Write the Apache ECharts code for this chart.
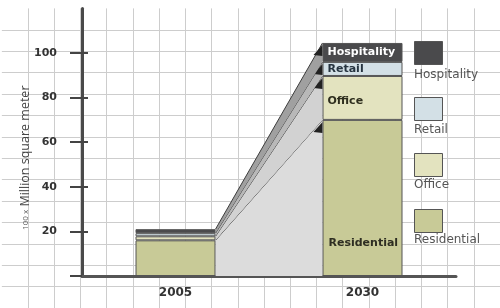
<!DOCTYPE html>
<html>
<head>
<meta charset="utf-8">
<script src="https://cdn.jsdelivr.net/npm/echarts@6/dist/echarts.min.js"></script>
<style>
  html, body { margin: 0; padding: 0; background: #fff; }
  #main { width: 500px; height: 308px; }
</style>
</head>
<body>
<div id="main"></div>
<script>
// values (100 x million square meter)
var years = ['2005', '2030'];
var layers = ['Residential', 'Office', 'Retail', 'Hospitality'];
var residential = [16, 70];
var office = [1.8, 19.7];
var retail = [1.4, 6.3];
var hospitality = [1.8, 8.5];
var yTicks = [20, 40, 60, 80, 100];
var legendOrder = ['Hospitality', 'Retail', 'Office', 'Residential'];

var layerValues = [residential, office, retail, hospitality];
var layerColors = ['#c8ca97', '#e3e3bf', '#d3e0e6', '#4a4a4c'];
var bandColors = ['#dcdcdc', '#d2d2d2', '#b8b8b8', '#a0a0a0'];
var labelColors = ['#2e2e22', '#2e2e1e', '#263440', '#ffffff'];
var BAR_W = 80;

// one band per layer between the two bars: [layer, bottom05, bottom30, top05, top30]
var bandData = [];
var acc = [0, 0];
layerValues.forEach(function (vals, k) {
  bandData.push([k, acc[0], acc[1], acc[0] + vals[0], acc[1] + vals[1]]);
  acc = [acc[0] + vals[0], acc[1] + vals[1]];
});

function renderBand(params, api) {
  var k = api.value(0);
  var xL = api.coord([0, 0])[0] + BAR_W / 2;
  var xR = api.coord([1, 0])[0] - BAR_W / 2;
  var yb05 = api.coord([0, api.value(1)])[1];
  var yb30 = api.coord([1, api.value(2)])[1];
  var yt05 = api.coord([0, api.value(3)])[1];
  var yt30 = api.coord([1, api.value(4)])[1];
  return {
    type: 'group',
    children: [
      {
        type: 'polygon',
        shape: { points: [[xL, yb05], [xL, yt05], [xR, yt30], [xR, yb30]] },
        style: { fill: bandColors[k] }
      },
      {
        type: 'line',
        shape: { x1: xL, y1: yt05, x2: xR, y2: yt30 },
        style: { stroke: '#3c3c3c', lineWidth: 1 }
      },
      {
        type: 'polygon',
        shape: { points: [[xR, yt30 + 2], [xR, yt30 + 13], [xR - 9, yt30 + 12]] },
        style: { fill: '#222' }
      }
    ]
  };
}

function barLabel(k) {
  var lab = {
    show: true,
    position: 'insideLeft',
    distance: 5,
    color: labelColors[k],
    fontFamily: 'DejaVu Sans',
    fontWeight: 'bold',
    fontSize: 11,
    formatter: '{a}'
  };
  if (k === 0) {
    lab.position = [6, '79%'];
    lab.verticalAlign = 'middle';
  }
  if (k === 1) {
    lab.offset = [0, 3];
  }
  return lab;
}

var barSeries = layers.map(function (name, k) {
  return {
    name: name,
    type: 'bar',
    stack: 'total',
    xAxisIndex: 0,
    yAxisIndex: 0,
    barWidth: BAR_W,
    z: 3,
    itemStyle: { color: layerColors[k], borderColor: '#555', borderWidth: 1 },
    data: layerValues[k].map(function (v, i) {
      return { value: v, label: i === 1 ? barLabel(k) : { show: false } };
    })
  };
});

var chart = echarts.init(document.getElementById('main'));
var option = {
  animation: false,
  backgroundColor: '#fff',
  grid: [
    { left: 82, right: 44, top: 8.4, bottom: 32 },
    // background squared paper, same scale as the plot
    { left: 1.87, right: -9.4, top: 8.4, bottom: -12.6 }
  ],
  legend: [
    {
      data: legendOrder,
      orient: 'vertical',
      left: 414,
      top: 41,
      padding: 0,
      itemWidth: 28,
      itemHeight: 23,
      itemGap: 32,
      icon: 'rect',
      formatter: function () { return ''; },
      itemStyle: { borderColor: '#555', borderWidth: 1 },
      textStyle: { fontSize: 1 }
    },
    {
      data: legendOrder,
      orient: 'vertical',
      left: 409,
      top: 69,
      padding: 0,
      itemWidth: 0,
      itemHeight: 0,
      itemGap: 43,
      icon: 'rect',
      itemStyle: { color: 'transparent', borderWidth: 0, opacity: 0 },
      textStyle: { color: '#555', fontFamily: 'DejaVu Sans', fontSize: 12 }
    }
  ],
  xAxis: [
    {
      type: 'category',
      gridIndex: 0,
      data: years,
      axisLine: { lineStyle: { color: '#555', width: 3 } },
      axisTick: { show: false },
      axisLabel: {
        margin: 11,
        color: '#333',
        fontFamily: 'DejaVu Sans',
        fontWeight: 'bold',
        fontSize: 12
      },
      splitLine: { show: false }
    },
    {
      type: 'value',
      gridIndex: 1,
      min: -3,
      max: 16,
      interval: 1,
      axisLine: { show: false },
      axisTick: { show: false },
      axisLabel: { show: false },
      splitLine: { showMinLine: false, lineStyle: { color: '#cdcdcd', width: 1 } }
    }
  ],
  yAxis: [
    {
      type: 'value',
      gridIndex: 0,
      position: 'left',
      min: 0,
      max: 120,
      interval: 20,
      name: '{s|100 x} {m|Million square meter}',
      nameLocation: 'middle',
      nameGap: 50,
      nameMoveOverlap: false,
      nameTextStyle: {
        padding: [0, 31, 0, 0],
        rich: {
          s: { fontSize: 8, color: '#555', fontFamily: 'Open Sans' },
          m: { fontSize: 12.5, color: '#444', fontFamily: 'Open Sans' }
        }
      },
      axisLine: { show: true, lineStyle: { color: '#4a4a4a', width: 3 } },
      axisTick: {
        show: true,
        customValues: [0].concat(yTicks),
        length: 12,
        lineStyle: { color: '#444', width: 2 }
      },
      axisLabel: {
        customValues: yTicks,
        margin: 25,
        padding: [0, 0, 7, 0],
        color: '#333',
        fontFamily: 'DejaVu Sans',
        fontWeight: 'bold',
        fontSize: 11
      },
      splitLine: { show: false }
    },
    {
      type: 'value',
      gridIndex: 0,
      position: 'left',
      min: 0,
      max: 120,
      interval: 20,
      axisLine: { show: false },
      axisTick: {
        show: true,
        inside: true,
        customValues: yTicks,
        length: 6,
        lineStyle: { color: '#444', width: 2 }
      },
      axisLabel: { show: false },
      splitLine: { show: false }
    },
    {
      type: 'value',
      gridIndex: 1,
      min: -20,
      max: 120,
      interval: 10,
      axisLine: { show: false },
      axisTick: { show: false },
      axisLabel: { show: false },
      splitLine: { showMaxLine: false, lineStyle: { color: '#cdcdcd', width: 1 } }
    }
  ],
  series: [
    {
      name: 'bands',
      type: 'custom',
      xAxisIndex: 0,
      yAxisIndex: 0,
      z: 2,
      renderItem: renderBand,
      encode: { x: 0, y: [1, 2, 3, 4] },
      data: bandData
    }
  ].concat(barSeries)
};
chart.setOption(option);
</script>
</body>
</html>
